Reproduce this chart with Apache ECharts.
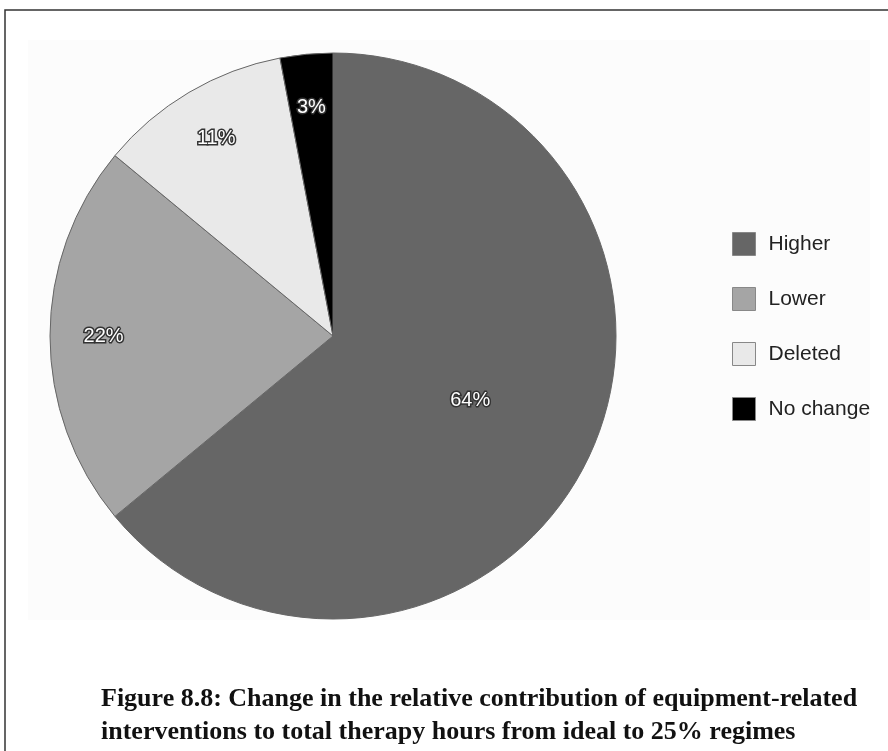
<!DOCTYPE html>
<html>
<head>
<meta charset="utf-8">
<style>
  html, body { margin: 0; padding: 0; background: #fff; }
  #chart { width: 888px; height: 751px; }
</style>
<script src="https://cdn.jsdelivr.net/npm/echarts@6/dist/echarts.min.js"></script>
</head>
<body>
<div id="chart"></div>
<script>
// slices, clockwise from 12 o'clock
const categories = ['Higher', 'Lower', 'Deleted', 'No change'];
const shares = [64, 22, 11, 3];
const captionLines = [
  'Figure 8.8: Change in the relative contribution of equipment-related',
  'interventions to total therapy hours from ideal to 25% regimes'
];

const sliceColors = ['#666666', '#a5a5a5', '#e9e9e9', '#000000'];
const pieCenter = [333, 336];
const pieRadius = 283;

const chart = echarts.init(document.getElementById('chart'));

const labelStyle = {
  position: 'inside',
  formatter: '{c}%',
  color: '#fff',
  fontFamily: 'Liberation Sans',
  fontSize: 20,
  textBorderColor: '#333',
  textBorderWidth: 3
};

// invisible pie used only to place labels; inside labels sit at half its radius
function labelPie(radius, shown) {
  return {
    type: 'pie',
    center: pieCenter,
    radius: [0, radius],
    startAngle: 90,
    clockwise: true,
    avoidLabelOverlap: false,
    silent: true,
    z: 5,
    itemStyle: { color: 'rgba(0,0,0,0)', borderWidth: 0 },
    label: Object.assign({}, labelStyle),
    labelLine: { show: false },
    data: categories.map((name, i) => ({
      name: name,
      value: shares[i],
      label: { show: shown.indexOf(i) >= 0 }
    }))
  };
}

chart.setOption({
  animation: false,
  backgroundColor: '#fff',
  graphic: [
    {
      type: 'rect',
      shape: { x: 28, y: 40, width: 842, height: 580 },
      style: { fill: '#fcfcfc' },
      z: -10
    },
    {
      type: 'rect',
      shape: { x: 5, y: 10, width: 900, height: 800 },
      style: { fill: 'none', stroke: '#333', lineWidth: 1.5 },
      z: -5
    },
    {
      type: 'text',
      left: 101,
      top: 683,
      style: {
        text: captionLines.join('\n'),
        font: 'bold 26px "Liberation Serif"',
        fill: '#111',
        lineHeight: 33
      }
    }
  ],
  legend: {
    orient: 'vertical',
    left: 732,
    top: 232,
    padding: 0,
    itemWidth: 23,
    itemHeight: 23,
    itemGap: 31,
    icon: 'rect',
    data: categories,
    itemStyle: { borderColor: '#888', borderWidth: 1 },
    textStyle: {
      fontFamily: 'Liberation Sans',
      fontSize: 21,
      color: '#222',
      padding: [0, 0, 0, 8]
    }
  },
  series: [
    {
      type: 'pie',
      center: pieCenter,
      radius: [0, pieRadius],
      startAngle: 90,
      clockwise: true,
      avoidLabelOverlap: false,
      silent: true,
      itemStyle: { borderColor: '#666', borderWidth: 1 },
      label: { show: false },
      labelLine: { show: false },
      data: categories.map((name, i) => ({
        name: name,
        value: shares[i],
        itemStyle: { color: sliceColors[i] }
      }))
    },
    labelPie(pieRadius * 1.05, [0]),
    labelPie(pieRadius * 1.6, [1, 2, 3])
  ]
});
</script>
</body>
</html>
